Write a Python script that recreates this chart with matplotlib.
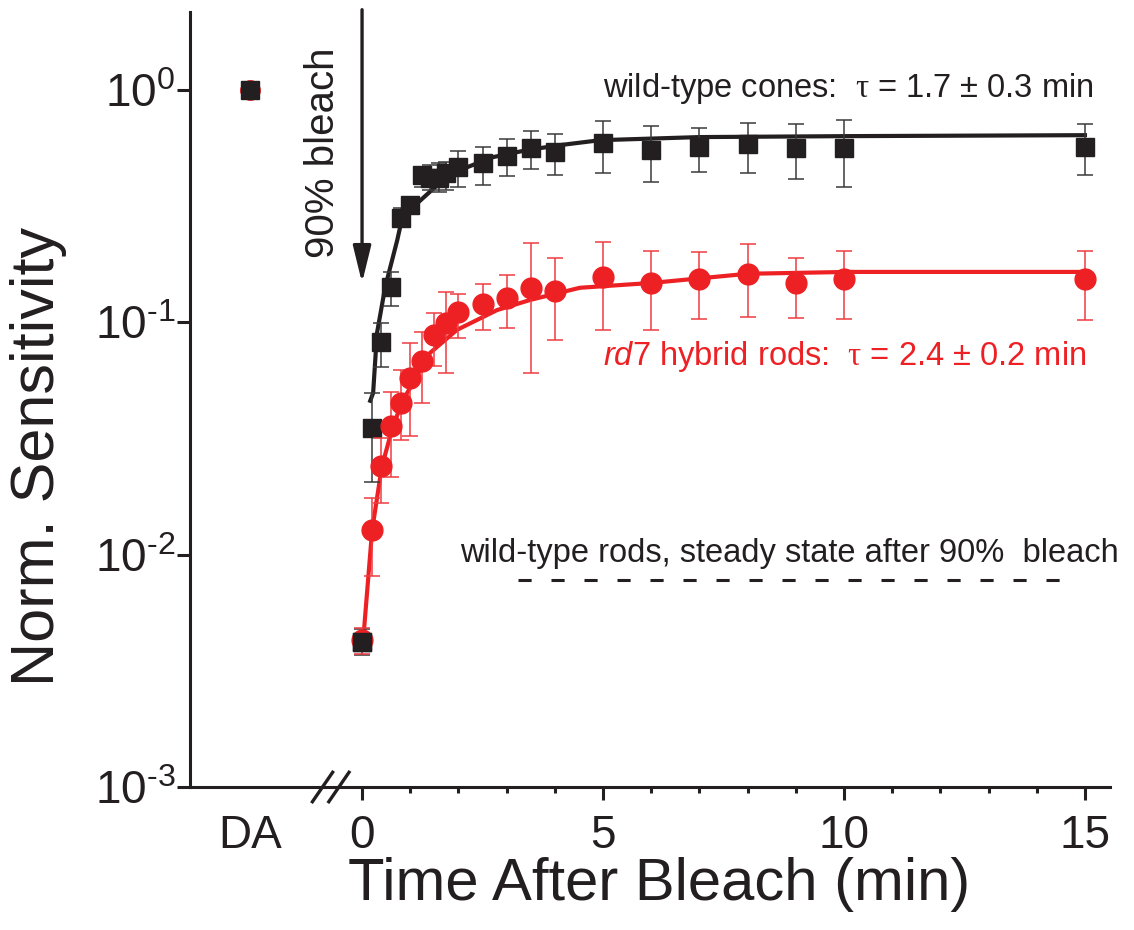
import matplotlib
matplotlib.use('Agg')
import matplotlib.pyplot as plt
from matplotlib.ticker import FixedLocator, NullLocator

plt.rcParams['font.family'] = ['Liberation Sans', 'DejaVu Sans']
plt.rcParams['mathtext.fontset'] = 'custom'
plt.rcParams['mathtext.rm'] = 'Liberation Sans'
plt.rcParams['mathtext.it'] = 'Liberation Sans:italic'
plt.rcParams['mathtext.sf'] = 'Liberation Serif'

RED = '#ed2024'
BLACK = '#231f20'

# dark adapted point, drawn left of the axis break
da_pos = -2.33
da_value = 1.0

# wild-type cones (mean, upper and lower ends of error bars)
cone_t = [0, 0.2, 0.4, 0.6, 0.8, 1.0, 1.25, 1.4, 1.6, 1.75, 2.0, 2.5, 3, 3.5, 4, 5, 6, 7, 8, 9, 10, 15]
cone_s = [0.0042, 0.035, 0.0824, 0.142, 0.281, 0.32, 0.43, 0.42, 0.42, 0.44, 0.467, 0.485, 0.52,
          0.563, 0.541, 0.592, 0.552, 0.569, 0.586, 0.563, 0.563, 0.569]
cone_hi = [0.0048, 0.0497, 0.0995, 0.165, 0.311, 0.347, 0.467, 0.476, 0.485, 0.49, 0.547, 0.569, 0.616,
           0.666, 0.647, 0.736, 0.70, 0.686, 0.721, 0.714, 0.743, 0.714]
cone_lo = [0.0037, 0.0206, 0.0645, 0.118, 0.257, 0.296, 0.383, 0.371, 0.364, 0.37, 0.383, 0.39, 0.427,
           0.457, 0.431, 0.44, 0.402, 0.444, 0.44, 0.414, 0.383, 0.431]

# rd7 hybrid rods
rod_t = [0, 0.2, 0.4, 0.6, 0.8, 1.0, 1.25, 1.5, 1.75, 2.0, 2.5, 3, 3.5, 4, 5, 6, 7, 8, 9, 10, 15]
rod_s = [0.0043, 0.0128, 0.0242, 0.0359, 0.0451, 0.0577, 0.0683, 0.0884, 0.0995, 0.111, 0.120, 0.127,
         0.141, 0.137, 0.157, 0.148, 0.154, 0.162, 0.148, 0.154, 0.154]
rod_hi = [0.00485, 0.0176, 0.0319, 0.0503, 0.0624, 0.0815, 0.0912, 0.110, 0.135, 0.133, 0.146, 0.160,
          0.220, 0.190, 0.222, 0.203, 0.201, 0.218, 0.190, 0.203, 0.203]
rod_lo = [0.00372, 0.0081, 0.0167, 0.0215, 0.0313, 0.0325, 0.0452, 0.0652, 0.0607, 0.0859, 0.0930, 0.0947,
          0.0607, 0.084, 0.093, 0.093, 0.103, 0.106, 0.105, 0.103, 0.102]

# exponential fits
cone_fit_t = [0.17, 0.23, 0.31, 0.48, 0.73, 0.79, 1.06, 1.56, 2.03, 2.72, 3.42, 4.11, 4.94, 7.0, 10.1, 15.0]
cone_fit_s = [0.046, 0.0497, 0.090, 0.142, 0.226, 0.257, 0.314, 0.390, 0.453, 0.515, 0.552, 0.580, 0.609,
              0.628, 0.634, 0.64]
rod_fit_t = [0.02, 0.21, 0.41, 0.62, 0.83, 1.41, 1.97, 2.8, 3.49, 4.52, 6.02, 8.0, 10.1, 15.0]
rod_fit_s = [0.0042, 0.0128, 0.0239, 0.0345, 0.0455, 0.0739, 0.0929, 0.113, 0.125, 0.141, 0.148, 0.162,
             0.165, 0.165]

# wild-type rods steady state level
wt_rod_level = 0.0078
wt_rod_start, wt_rod_end = 3.24, 14.75

y_ticks = [1e-3, 1e-2, 1e-1, 1]
y_ticklabels = [r'$10^{\text{-}3}$', r'$10^{\text{-}2}$', r'$10^{\text{-}1}$', r'$10^{0}$']

fig = plt.figure(figsize=(11.34, 9.30), dpi=100)
ax = fig.add_axes([190 / 1134, 1 - 787 / 930, 920 / 1134, 775 / 930])

ax.set_yscale('log')
ax.set_xlim(-3.57, 15.52)
ax.set_ylim(1e-3, 2.17)

# fits
ax.plot(cone_fit_t, cone_fit_s, color=BLACK, lw=3, zorder=2)
ax.plot(rod_fit_t, rod_fit_s, color=RED, lw=3, zorder=2)

ax.errorbar(cone_t, cone_s, yerr=[[s - l for s, l in zip(cone_s, cone_lo)],
                                  [h - s for s, h in zip(cone_s, cone_hi)]],
            fmt='s', ms=13, color=BLACK, ecolor='#3a3a3a', elinewidth=1.1, capsize=6,
            capthick=1.1, zorder=3)
ax.errorbar(rod_t, rod_s, yerr=[[s - l for s, l in zip(rod_s, rod_lo)],
                                [h - s for s, h in zip(rod_s, rod_hi)]],
            fmt='o', ms=15, color=RED, ecolor='#ee3c40', elinewidth=1.1, capsize=6,
            capthick=1.1, zorder=4)
# t=0 square sits on top of the red circle
ax.plot(cone_t[0], cone_s[0], 's', ms=13, color=BLACK, zorder=5)

# dark adapted
ax.plot(da_pos, da_value, 'o', ms=14, color=RED, zorder=4, clip_on=False)
ax.plot(da_pos, da_value, 's', ms=12.5, color=BLACK, zorder=5, clip_on=False)

ax.hlines(wt_rod_level, wt_rod_start, wt_rod_end, colors=BLACK, lw=2.2,
          linestyles=(0, (4.3, 6.5)))

ax.annotate('', xy=(0, 0.148), xytext=(0, 2.22),
            arrowprops=dict(arrowstyle='-|>,head_length=0.9,head_width=0.22',
                            lw=2.4, color=BLACK, mutation_scale=25, shrinkA=0, shrinkB=0),
            annotation_clip=False)
ax.text(-0.8, 0.54, '90% bleach', rotation=90, ha='center', va='center', fontsize=29, color=BLACK)

ax.text(5.0, 1.02, r'wild-type cones:  $\mathsf{\tau}$ = 1.7 ± 0.3 min', fontsize=23.5,
        ha='left', va='center', color=BLACK)
ax.text(5.0, 0.071, r'$\mathit{rd7}$ hybrid rods:  $\mathsf{\tau}$ = 2.4 ± 0.2 min', fontsize=23.5,
        ha='left', va='center', color=RED)
ax.text(2.03, 0.0101, 'wild-type rods, steady state after 90%  bleach', fontsize=23.5,
        ha='left', va='center', color=BLACK)

# axis break marks
for bx in (-0.82, -0.48):
    ax.plot([bx - 0.21, bx + 0.21], [-0.019, 0.019], transform=ax.get_xaxis_transform(),
            color=BLACK, lw=2.4, clip_on=False, zorder=6)

ax.spines['top'].set_visible(False)
ax.spines['right'].set_visible(False)
for side in ('left', 'bottom'):
    ax.spines[side].set_linewidth(2.2)
    ax.spines[side].set_color(BLACK)

ax.set_xticks([da_pos, 0, 5, 10, 15])
ax.set_xticklabels(['DA', '0', '5', '10', '15'])
ax.xaxis.set_minor_locator(FixedLocator([m for m in range(1, 16) if m % 5]))
ax.xaxis.get_major_ticks()[0].tick1line.set_visible(False)
ax.set_yticks(y_ticks)
ax.set_yticklabels(y_ticklabels)
ax.yaxis.set_minor_locator(NullLocator())
ax.tick_params(which='major', length=9.5, width=2.2, color=BLACK, labelsize=33, labelcolor=BLACK)
ax.tick_params(axis='x', which='major', pad=10)
ax.tick_params(axis='y', which='major', pad=1)
ax.tick_params(which='minor', length=4.5, width=2.2, color=BLACK)

ax.set_xlabel('Time After Bleach (min)', fontsize=43, color=BLACK)
ax.xaxis.set_label_coords(0.51, -0.126)
ax.xaxis.label.set_va('center')
ax.set_ylabel('Norm. Sensitivity', fontsize=44, color=BLACK, rotation=90, rotation_mode='default',
              ha='center', va='center')
ax.yaxis.set_label_coords(-0.165, 0.427)

fig.savefig('out.png', dpi=100)
